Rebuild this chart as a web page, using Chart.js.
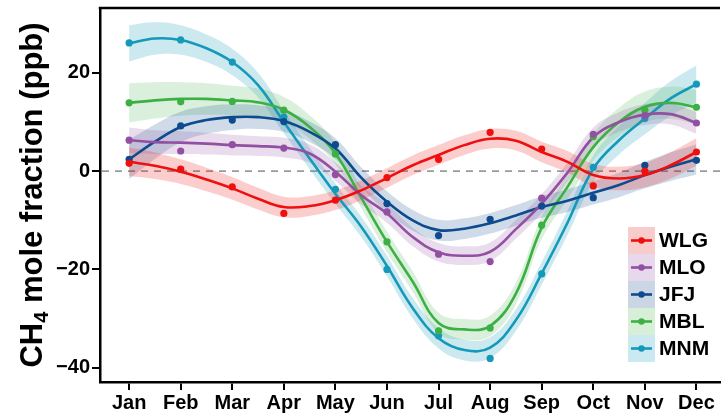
<!DOCTYPE html>
<html><head><meta charset="utf-8">
<script src="https://cdn.jsdelivr.net/npm/chart.js@4.4.1/dist/chart.umd.min.js"></script>
<style>html,body{margin:0;padding:0;background:#fff}#wrap{width:724px;height:418px}</style>
</head><body><div id="wrap"><canvas id="c" width="724" height="418"></canvas></div>
<script>
const months = ['Jan','Feb','Mar','Apr','May','Jun','Jul','Aug','Sep','Oct','Nov','Dec'];
const monthPos = [1,2,3,4,5,6,7,8,9,10,11,12];
const yTicks = [-40,-20,0,20];
const stationNames = ['WLG','MLO','JFJ','MBL','MNM'];

// monthly observed means
const wlgObs = [1.6, 0.4, -3.2, -8.6, -5.9, -1.3, 2.4, 7.9, 4.5, -3.0, 0.0, 3.9];
const mloObs = [6.3, 4.1, 5.4, 4.7, -0.7, -8.3, -16.9, -18.4, -5.5, 7.5, 11.3, 9.8];
const jfjObs = [2.4, 9.2, 10.4, 10.1, 5.4, -6.6, -13.1, -9.8, -7.1, -5.4, 1.2, 2.2];
const mblObs = [13.9, 14.1, 14.2, 12.4, 3.5, -14.4, -32.5, -31.9, -11.0, 7.0, 12.4, 13.0];
const mnmObs = [26.1, 26.7, 22.2, 11.0, -3.7, -20.0, -33.5, -38.1, -20.9, 0.8, 10.7, 17.7];

// fitted curves, read at half-month steps
const fitX = [1,1.5,2,2.5,3,3.5,4,4.5,5,5.5,6,6.5,7,7.5,8,8.5,9,9.5,10,10.5,11,11.5,12];
const wlgFit = [1.9,1.1,-0.1,-1.7,-3.5,-5.6,-7.3,-7.1,-5.9,-3.9,-1.4,1.2,3.3,5.3,6.6,6.2,3.9,1.9,-0.8,-1.5,-0.8,1.2,3.9];
const mloFit = [6.3,5.9,5.8,5.6,5.3,5.1,4.8,3.6,-0.1,-4.9,-8.6,-13.4,-16.5,-17.2,-16.4,-11.8,-6.6,-0.3,6.9,10.0,11.5,11.6,9.8];
const jfjFit = [2.4,6.0,9.0,10.4,11.0,11.0,10.2,8.0,4.6,-1.3,-6.2,-10.0,-12.0,-11.7,-10.6,-9.0,-7.3,-6.0,-4.4,-2.8,-0.8,0.9,2.4];
const mblFit = [13.9,14.4,14.7,14.7,14.4,14.0,12.5,9.0,3.6,-5.4,-14.4,-22.5,-30.9,-32.2,-31.5,-24.9,-11.5,-3.2,4.9,10.0,13.1,13.9,13.0];
const mnmFit = [26.0,27.0,26.7,25.0,22.2,17.5,10.0,2.6,-4.6,-11.3,-19.3,-27.9,-34.0,-36.4,-35.9,-30.3,-20.8,-10.5,0.5,6.3,10.7,14.8,17.7];

// confidence band half-widths
const wlgBand = [2.9,2.7,2.5,2.4,2.3,2.2,2.1,2.0,2.0,2.0,2.0,2.0,2.0,2.0,2.0,2.0,2.1,2.2,2.3,2.4,2.5,2.7,2.8];
const mloBand = [2.6,2.4,2.3,2.2,2.1,2.0,2.0,1.9,1.9,1.9,1.9,1.9,1.9,1.9,1.9,1.9,1.9,2.0,2.0,2.0,2.1,2.1,2.2];
const jfjBand = [4.0,3.5,3.1,2.8,2.6,2.4,2.2,2.1,2.1,2.1,2.1,2.1,2.1,2.1,2.1,2.1,2.2,2.3,2.4,2.5,2.7,2.9,3.1];
const mblBand = [4.0,3.7,3.4,3.2,3.0,2.8,2.6,2.4,2.2,2.1,2.1,2.1,2.1,2.1,2.1,2.2,2.3,2.5,2.7,2.9,3.1,3.3,3.5];
const mnmBand = [3.7,3.3,3.0,2.8,2.7,2.5,2.3,2.2,2.1,2.1,2.1,2.1,2.1,2.1,2.1,2.2,2.3,2.5,2.7,2.9,3.2,3.5,3.8];

const FONT = "'Liberation Sans', Arial, Helvetica, sans-serif";
const styles = {
  WLG: {line:'#f00f0f', band:'rgba(240,20,20,0.21)', key:'#f9cccc'},
  MLO: {line:'#9350a2', band:'rgba(147,80,162,0.2)', key:'#e7d9eb'},
  JFJ: {line:'#0d4a8e', band:'rgba(13,74,142,0.2)', key:'#cbd6e5'},
  MBL: {line:'#3db044', band:'rgba(61,176,68,0.19)', key:'#d8efd7'},
  MNM: {line:'#1599ba', band:'rgba(21,153,186,0.21)', key:'#cae9f0'}
};
const series = {
  WLG:{obs:wlgObs, fit:wlgFit, band:wlgBand},
  MLO:{obs:mloObs, fit:mloFit, band:mloBand},
  JFJ:{obs:jfjObs, fit:jfjFit, band:jfjBand},
  MBL:{obs:mblObs, fit:mblFit, band:mblBand},
  MNM:{obs:mnmObs, fit:mnmFit, band:mnmBand}
};

const datasets = [];
stationNames.forEach(n => {
  const s = series[n], st = styles[n];
  datasets.push({label:n+'_up', data: fitX.map((x,i)=>({x, y:s.fit[i]+s.band[i]})),
    borderColor:'rgba(0,0,0,0)', borderWidth:0, pointRadius:0, fill:false, tension:0.4, order:3});
  datasets.push({label:n+'_lo', data: fitX.map((x,i)=>({x, y:s.fit[i]-s.band[i]})),
    borderColor:'rgba(0,0,0,0)', borderWidth:0, pointRadius:0, fill:'-1', backgroundColor:st.band, tension:0.4, order:3});
});
stationNames.forEach(n => {
  const s = series[n], st = styles[n];
  datasets.push({label:n, data: fitX.map((x,i)=>({x, y:s.fit[i]})),
    borderColor:st.line, borderWidth:2.6, pointRadius:0, fill:false, tension:0.4, order:2});
});
stationNames.forEach(n => {
  const s = series[n], st = styles[n];
  datasets.push({label:n+'_obs', data: monthPos.map((x,i)=>({x, y:s.obs[i]})),
    showLine:false, pointRadius:3.6, pointBorderWidth:0, pointBackgroundColor:st.line, pointBorderColor:st.line, order:1});
});

const decor = {
  id:'decor',
  beforeDatasetsDraw(chart){
    const ctx = chart.ctx, a = chart.chartArea, y0 = chart.scales.y.getPixelForValue(0);
    ctx.save();
    ctx.strokeStyle = '#9a9a9a'; ctx.lineWidth = 1.8; ctx.setLineDash([7,6]);
    ctx.beginPath(); ctx.moveTo(a.left+2, y0); ctx.lineTo(a.right, y0); ctx.stroke();
    ctx.restore();
  },
  afterDraw(chart){
    const ctx = chart.ctx, a = chart.chartArea;
    ctx.save();
    // top border
    ctx.strokeStyle = '#000'; ctx.lineWidth = 2.5;
    ctx.beginPath(); ctx.moveTo(a.left-1.25, a.top); ctx.lineTo(a.right, a.top); ctx.stroke();
    // legend
    const lx = 628, ly = 227, bw = 27, bh = 27;
    stationNames.forEach((n,i) => {
      const st = styles[n], top = ly + i*bh, cy = top + bh/2;
      ctx.fillStyle = st.key; ctx.fillRect(lx, top, bw, bh);
      ctx.strokeStyle = st.line; ctx.lineWidth = 2.6;
      ctx.beginPath(); ctx.moveTo(lx+3, cy); ctx.lineTo(lx+bw-3, cy); ctx.stroke();
      ctx.fillStyle = st.line; ctx.beginPath(); ctx.arc(lx+bw/2, cy, 3.2, 0, Math.PI*2); ctx.fill();
      ctx.fillStyle = '#000'; ctx.font = 'bold 21px ' + FONT; ctx.textBaseline = 'middle'; ctx.textAlign = 'left';
      ctx.fillText(n, lx+bw+4, cy+1);
    });
    // y-axis title with subscript
    ctx.translate(42, (a.top+a.bottom)/2);
    ctx.rotate(-Math.PI/2);
    const big = 'bold 31px ' + FONT, small = 'bold 20px ' + FONT;
    const p1 = 'CH', p2 = '4', p3 = ' mole fraction (ppb)';
    ctx.font = big; const w1 = ctx.measureText(p1).width, w3 = ctx.measureText(p3).width;
    ctx.font = small; const w2 = ctx.measureText(p2).width;
    let x = -(w1+w2+w3)/2;
    ctx.fillStyle = '#000'; ctx.textBaseline = 'alphabetic'; ctx.textAlign = 'left';
    ctx.font = big; ctx.fillText(p1, x, 0); x += w1;
    ctx.font = small; ctx.fillText(p2, x, 6); x += w2;
    ctx.font = big; ctx.fillText(p3, x, 0);
    ctx.restore();
  }
};

new Chart(document.getElementById('c'), {
  type:'line',
  data:{datasets},
  options:{
    responsive:false, animation:false, devicePixelRatio:1,
    layout:{padding:{top:8, left:0, right:0, bottom:0}},
    plugins:{legend:{display:false}, tooltip:{enabled:false}},
    scales:{
      x:{type:'linear', min:0.4355, max:12.457,
        afterBuildTicks: sc => { sc.ticks = monthPos.map(v=>({value:v})); },
        afterFit: sc => { sc.height = 36; sc.paddingLeft = 0; sc.paddingRight = 0; },
        ticks:{callback: v => months[v-1], font:{family:FONT, size:20, weight:'bold'}, color:'#000', padding:1, autoSkip:false, maxRotation:0},
        grid:{drawOnChartArea:false, tickLength:8, color:'#000', lineWidth:2},
        border:{color:'#000', width:2.5}},
      y:{type:'linear', min:-42.9, max:33.2,
        afterBuildTicks: sc => { sc.ticks = yTicks.map(v=>({value:v})); },
        afterFit: sc => { sc.width = 100; sc.paddingTop = 0; sc.paddingBottom = 0; },
        ticks:{font:{family:FONT, size:20, weight:'bold'}, color:'#000', padding:2, callback: v => (v<0 ? '\u2212'+Math.abs(v) : ''+v)},
        grid:{drawOnChartArea:false, tickLength:8, color:'#000', lineWidth:2},
        border:{color:'#000', width:2.5}}
    }
  },
  plugins:[decor]
});
</script></body></html>
